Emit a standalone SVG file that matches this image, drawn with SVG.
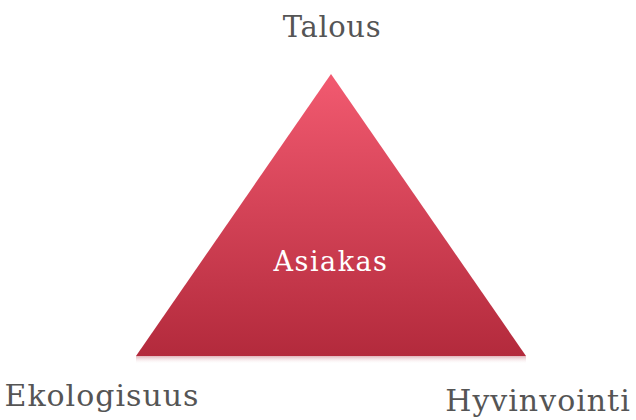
<svg xmlns="http://www.w3.org/2000/svg" width="636" height="420" viewBox="0 0 636 420">
<style>
.lbl{font-family:"DejaVu Serif","Liberation Serif",serif;font-size:30px;letter-spacing:1px;fill:#555}
.in{font-family:"DejaVu Serif","Liberation Serif",serif;font-size:27px;letter-spacing:1.5px;fill:#fff}
</style>
<defs>
<linearGradient id="g" x1="0" y1="0" x2="0" y2="1">
<stop offset="0" stop-color="#f25a70"/>
<stop offset="1" stop-color="#b32a3c"/>
</linearGradient>
<linearGradient id="r" x1="0" y1="0" x2="0" y2="1">
<stop offset="0" stop-color="#d9a0a8" stop-opacity="0.8"/>
<stop offset="1" stop-color="#fff" stop-opacity="0"/>
</linearGradient>
</defs>
<rect width="636" height="420" fill="#fff"/>
<g id="reflection"><rect x="136" y="356" width="390" height="8" fill="url(#r)"/></g>
<g id="asiakas">
<polygon points="331,74 526,356 136,356" fill="url(#g)"/>
<text class="in" x="331" y="271" text-anchor="middle">Asiakas</text>
</g>
<g id="talous"><text class="lbl" x="332" y="37" text-anchor="middle" style="font-size:29px;letter-spacing:0.6px">Talous</text></g>
<g id="ekologisuus"><text class="lbl" x="102" y="406" text-anchor="middle">Ekologisuus</text></g>
<g id="hyvinvointi"><text class="lbl" x="538" y="411" text-anchor="middle">Hyvinvointi</text></g>
</svg>
